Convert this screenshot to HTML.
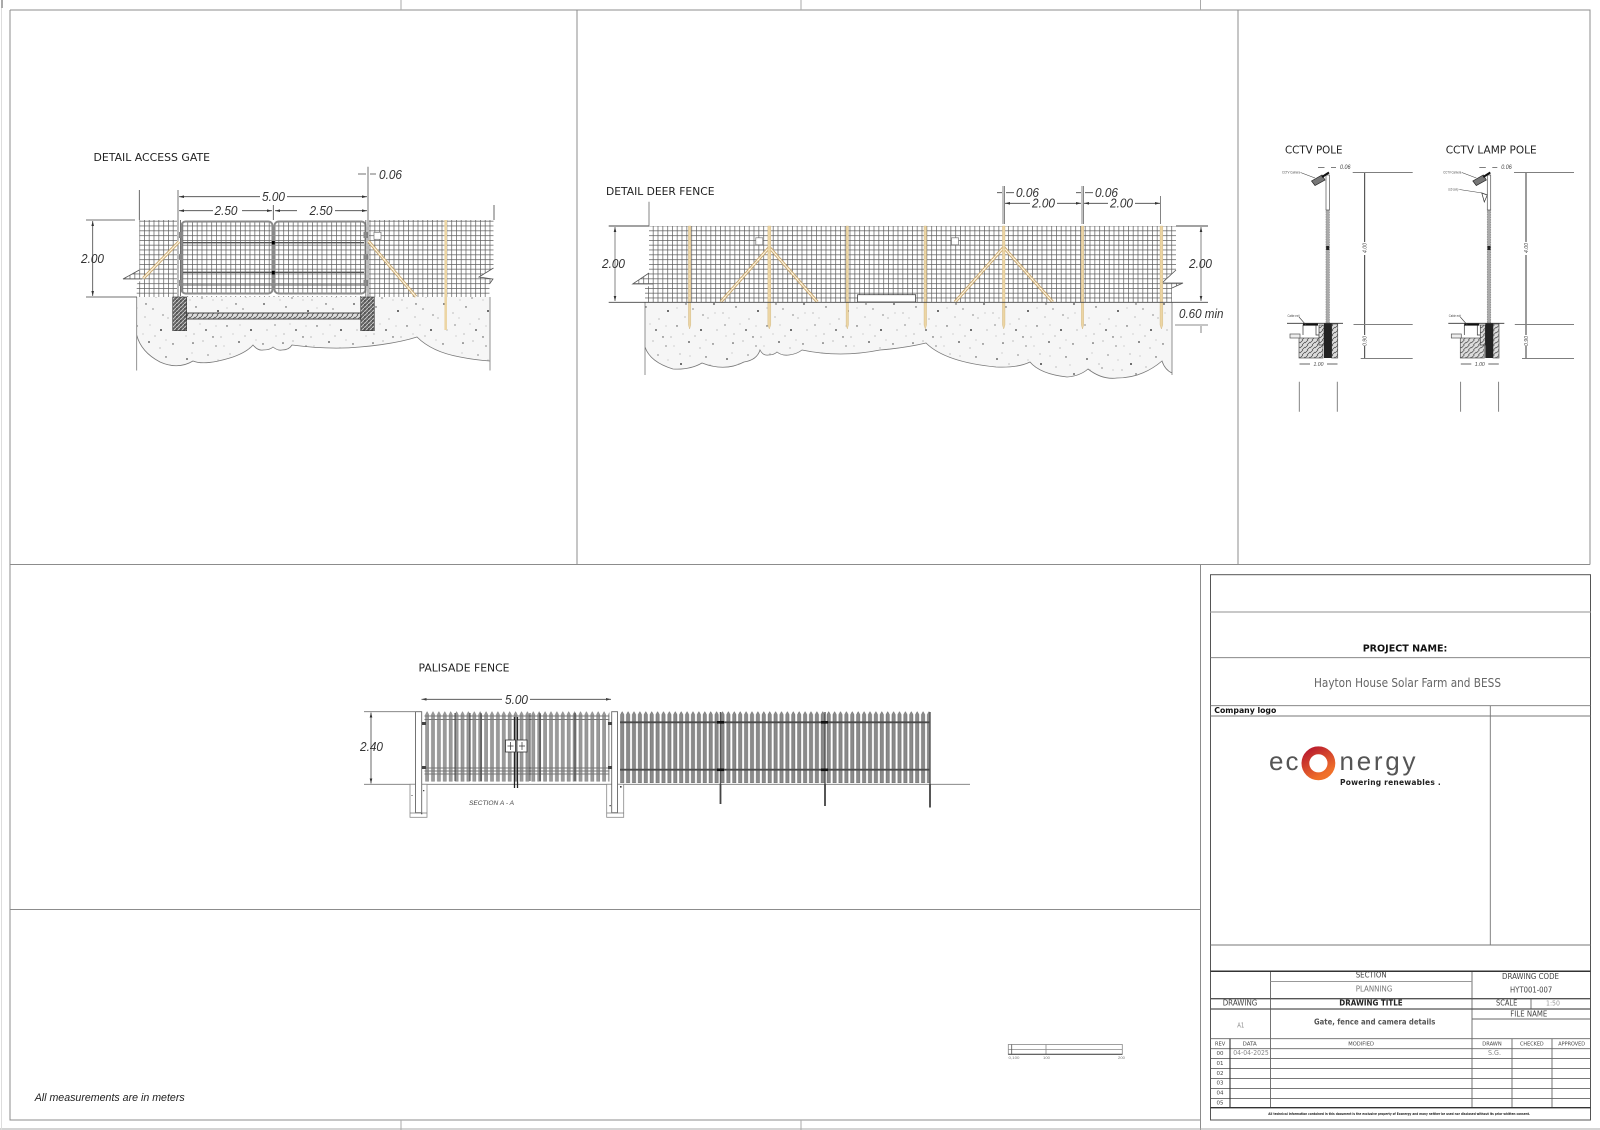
<!DOCTYPE html>
<html><head><meta charset="utf-8"><style>
html,body{margin:0;padding:0;background:#fff}
svg{display:block}
text{font-family:"Liberation Sans",sans-serif}
.d{font-style:italic;fill:#333;font-size:12.5px}
.t{font-family:"DejaVu Sans","Liberation Sans",sans-serif;fill:#222;font-size:10.5px}
.v{font-family:"DejaVu Sans","Liberation Sans",sans-serif;fill:#444}
</style></head><body>
<svg width="1600" height="1130" viewBox="0 0 1600 1130" xmlns="http://www.w3.org/2000/svg">
<defs>
<pattern id="mesh" width="4.8" height="4.8" patternUnits="userSpaceOnUse"><rect width="4.8" height="4.8" fill="#fff"/><path d="M0 .4H4.8M.4 0V4.8" stroke="#5c5c5c" stroke-width=".7" fill="none"/></pattern>
<pattern id="soil" width="90" height="70" patternUnits="userSpaceOnUse"><rect width="90" height="70" fill="#f6f6f6"/>
<g fill="#444"><circle cx="7" cy="9" r=".9"/><circle cx="28" cy="5" r=".6"/><circle cx="51" cy="14" r="1"/><circle cx="76" cy="7" r=".7"/><circle cx="16" cy="27" r=".7"/><circle cx="38" cy="31" r="1"/><circle cx="63" cy="29" r=".6"/><circle cx="84" cy="24" r=".9"/><circle cx="5" cy="45" r=".6"/><circle cx="26" cy="50" r=".9"/><circle cx="47" cy="46" r=".7"/><circle cx="71" cy="50" r="1"/><circle cx="13" cy="63" r=".8"/><circle cx="36" cy="66" r=".6"/><circle cx="59" cy="62" r=".9"/><circle cx="83" cy="64" r=".7"/><circle cx="22" cy="18" r=".6"/><circle cx="56" cy="24" r=".7"/><circle cx="73" cy="35" r=".6"/><circle cx="33" cy="57" r=".7"/></g>
<g fill="#999"><circle cx="19" cy="14" r=".6"/><circle cx="42" cy="20" r=".6"/><circle cx="66" cy="17" r=".6"/><circle cx="3" cy="33" r=".6"/><circle cx="29" cy="39" r=".6"/><circle cx="55" cy="37" r=".6"/><circle cx="78" cy="38" r=".6"/><circle cx="14" cy="54" r=".6"/><circle cx="41" cy="57" r=".6"/><circle cx="65" cy="56" r=".6"/><circle cx="87" cy="50" r=".6"/><circle cx="23" cy="61" r=".6"/><circle cx="50" cy="4" r=".6"/><circle cx="70" cy="68" r=".6"/><circle cx="33" cy="20" r=".5"/><circle cx="10" cy="20" r=".5"/><circle cx="60" cy="45" r=".5"/><circle cx="80" cy="15" r=".5"/><circle cx="12" cy="3" r=".5"/><circle cx="38" cy="10" r=".5"/><circle cx="60" cy="6" r=".5"/><circle cx="85" cy="33" r=".5"/><circle cx="47" cy="28" r=".5"/><circle cx="9" cy="38" r=".5"/><circle cx="20" cy="44" r=".5"/><circle cx="36" cy="46" r=".5"/><circle cx="53" cy="54" r=".5"/><circle cx="76" cy="60" r=".5"/><circle cx="6" cy="56" r=".5"/><circle cx="44" cy="66" r=".5"/></g>
</pattern>
<pattern id="hatch" width="4" height="4" patternUnits="userSpaceOnUse"><rect width="4" height="4" fill="#666"/><path d="M0 4L4 0" stroke="#ccc" stroke-width=".9"/><circle cx="1" cy="1" r=".5" fill="#111"/></pattern>
<pattern id="conc" width="5" height="5" patternUnits="userSpaceOnUse"><rect width="5" height="5" fill="#ddd"/><path d="M0 3L3 0M2 5L5 2" stroke="#444" stroke-width=".7"/></pattern>
<pattern id="pg" x="424.5" y="711.5" width="5.9" height="70" patternUnits="userSpaceOnUse"><polygon points="1,70 1,3 2.6,0 4.2,3 4.2,70" fill="#9a9a9a" stroke="#555" stroke-width=".3"/></pattern>
<pattern id="pf" x="619.5" y="711.5" width="5.9" height="71.5" patternUnits="userSpaceOnUse"><polygon points="1,71.5 1,3 2.7,0 4.4,3 4.4,71.5" fill="#8a8a8a" stroke="#4a4a4a" stroke-width=".35"/></pattern>
<linearGradient id="ring" x1="0" y1="0" x2=".6" y2="1"><stop offset="0" stop-color="#b81a2e"/><stop offset="1" stop-color="#f0702a"/></linearGradient>
</defs>
<rect width="1600" height="1130" fill="#fff"/>

<!-- sheet frame -->
<g fill="none" stroke="#8c8c8c" stroke-width="1">
<path d="M10 10H1590V564.5M10 10V1120H1200M10 564.5H1590M577 10V564.5M1238 10V564.5M1200.5 564.5V1130M10 909.5H1200.5"/>
<path d="M401 0V10M801 0V10M1200.5 0V10M401 1120V1130M801 1120V1130" stroke="#aaa"/>
<path d="M0 1129H1600" stroke="#aaa"/>
<path d="M1.5 0V1130" stroke="#ddd"/>
<path d="M2 0V8" stroke="#aaa" stroke-width="2"/>
</g>

<!-- DETAIL ACCESS GATE -->
<text class="t" x="93.5" y="161" textLength="116.5" lengthAdjust="spacingAndGlyphs">DETAIL ACCESS GATE</text>
<path d="M136.7 297V335Q141 352 160 362Q178 370 193 361Q205 366 233 357Q247 352 253 345Q258 351 263 350Q270 350 273 347Q278 351 282 350Q289 350 292 345Q330 350 360 347Q395 344 417 337Q432 352 460 357Q475 360 490 361V297Z" fill="url(#soil)"/>
<path d="M136.7 297V370.5M490 297V370.5M136.7 335Q141 352 160 362Q178 370 193 361Q205 366 233 357Q247 352 253 345Q258 351 263 350Q270 350 273 347Q278 351 282 350Q289 350 292 345Q330 350 360 347Q395 344 417 337Q432 352 460 357Q475 360 490 361" fill="none" stroke="#777" stroke-width=".8"/>
<path d="M139.3 220H493.5V268L479 277L493 279L489.5 284V297H136.7V284L142 279H123L139.3 270Z" fill="url(#mesh)"/>
<path d="M493.5 268L479 277L493 279L489.5 284M142 279H123L139.3 270" fill="none" stroke="#555" stroke-width=".8"/>
<rect x="177" y="219" width="192" height="77" fill="#fff"/>
<rect x="181.5" y="221.5" width="91" height="72" rx="4" fill="url(#mesh)" stroke="#8a8a8a" stroke-width="2"/>
<rect x="274.5" y="221.5" width="91" height="72" rx="4" fill="url(#mesh)" stroke="#8a8a8a" stroke-width="2"/>
<path d="M183 242.7H272M275 242.7H364M183 272.3H272M275 272.3H364" stroke="#555" stroke-width="1.3"/>
<path d="M183 285H272M275 285H364" stroke="#666" stroke-width="1"/>
<rect x="271.8" y="241" width="3" height="3.5" fill="#000"/><rect x="271.8" y="271" width="3" height="3.5" fill="#000"/>
<path d="M178 190V297M180.5 220V296M368 166.7V297M365.8 220V296" stroke="#666" stroke-width=".9"/>
<g fill="#888"><rect x="179" y="232" width="4" height="6"/><rect x="179" y="254" width="4" height="6"/><rect x="179" y="280" width="4" height="6"/><rect x="363.5" y="232" width="4" height="6"/><rect x="363.5" y="254" width="4" height="6"/><rect x="363.5" y="280" width="4" height="6"/></g>
<rect x="374" y="232.3" width="7" height="7" fill="#fff" stroke="#777" stroke-width=".7"/>
<path d="M179 241.7L143.3 278.3M368.3 241L416 296.7" stroke="#c9a66b" stroke-width="3"/>
<path d="M179 241.7L143.3 278.3M368.3 241L416 296.7" stroke="#fbf4e2" stroke-width="1.2"/>
<path d="M445.7 220V330" stroke="#ecd5a4" stroke-width="2.6"/>
<rect x="172.7" y="297" width="14" height="33.7" fill="url(#hatch)" stroke="#333" stroke-width=".6"/>
<rect x="360.7" y="297" width="13.6" height="33.7" fill="url(#hatch)" stroke="#333" stroke-width=".6"/>
<rect x="186.7" y="313" width="174" height="6" fill="url(#conc)" stroke="#333" stroke-width=".9"/>
<path d="M139.3 190V220M494 205V220M86 220H135M86 297H137M273.3 205V220M92.7 221V296" stroke="#444" stroke-width=".8" fill="none"/>
<path d="M179 196.7H260M287 196.7H367M179 210.7H213M242 210.7H272M275 210.7H297M335 210.7H367M358 174H366M370 174H376" stroke="#444" stroke-width=".8"/>
<path d="M179 196.7l5-1.3v2.6zM367 196.7l-5-1.3v2.6zM179 210.7l5-1.3v2.6zM272 210.7l-5-1.3v2.6zM275 210.7l5-1.3v2.6zM367 210.7l-5-1.3v2.6zM92.7 221l-1.3 5h2.6zM92.7 296l-1.3-5h2.6z" fill="#333"/>
<text class="d" x="262" y="201" textLength="23" lengthAdjust="spacingAndGlyphs">5.00</text>
<text class="d" x="214.5" y="215" textLength="23" lengthAdjust="spacingAndGlyphs">2.50</text>
<text class="d" x="309.5" y="215" textLength="23" lengthAdjust="spacingAndGlyphs">2.50</text>
<text class="d" x="379" y="179" textLength="23" lengthAdjust="spacingAndGlyphs">0.06</text>
<text class="d" x="81" y="263" textLength="23" lengthAdjust="spacingAndGlyphs">2.00</text>

<!-- DETAIL DEER FENCE -->
<text class="t" x="606" y="195" textLength="108.5" lengthAdjust="spacingAndGlyphs">DETAIL DEER FENCE</text>
<path d="M645 302V347Q650 362 673 369Q690 370 702 363Q725 372 744 362Q757 360 760 350Q763 356 768.5 355Q774 355 777 352Q782 356 789 355Q797 354 802 350Q840 358 880 350Q905 348 926 343Q945 362 996 367Q1018 368 1030 362Q1040 374 1067 377Q1080 376 1088 369Q1102 380 1117 378Q1142 378 1162 361Q1165 370 1172 373V302Z" fill="url(#soil)"/>
<path d="M645 302V375M1172 302V375M645 347Q650 362 673 369Q690 370 702 363Q725 372 744 362Q757 360 760 350Q763 356 768.5 355Q774 355 777 352Q782 356 789 355Q797 354 802 350Q840 358 880 350Q905 348 926 343Q945 362 996 367Q1018 368 1030 362Q1040 374 1067 377Q1080 376 1088 369Q1102 380 1117 378Q1142 378 1162 361Q1165 370 1172 373" fill="none" stroke="#777" stroke-width=".8"/>
<path d="M649 226H1176V270L1162 283H1183L1172 288V302H645V288L653 284H632.7L649 273Z" fill="url(#mesh)"/>
<path d="M1176 270L1162 283H1183L1172 288M653 284H632.7L649 273" fill="none" stroke="#555" stroke-width=".8"/>
<rect x="857.6" y="294.7" width="58" height="7.3" fill="#fff" stroke="#444" stroke-width=".8"/>
<rect x="755.8" y="237.8" width="7" height="7" fill="#fff" stroke="#777" stroke-width=".7"/>
<rect x="951.5" y="237.8" width="7" height="7" fill="#fff" stroke="#777" stroke-width=".7"/>
<path d="M769.3 247.3L720.7 302M769.3 247.3L817.4 302M1003.7 247.3L955 302M1003.7 247.3L1052.7 302" stroke="#c9a66b" stroke-width="3"/>
<path d="M769.3 247.3L720.7 302M769.3 247.3L817.4 302M1003.7 247.3L955 302M1003.7 247.3L1052.7 302" stroke="#fbf4e2" stroke-width="1.2"/>
<g fill="#ecd5a4" stroke="#c4a66a" stroke-width=".3">
<polygon points="688.4,226 690.8,226 690.8,325 689.6,329 688.4,325"/>
<polygon points="767.8,226 770.8,226 770.8,325 769.3,329 767.8,325"/>
<polygon points="846.1,226 848.5,226 848.5,325 847.3,329 846.1,325"/>
<polygon points="924,226 926.6,226 926.6,325 925.3,329 924,325"/>
<polygon points="1002.4,226 1005,226 1005,325 1003.7,329 1002.4,325"/>
<polygon points="1081.3,226 1083.7,226 1083.7,325 1082.5,329 1081.3,325"/>
<polygon points="1160,226 1162.8,226 1162.8,325 1161.4,329 1160,325"/>
</g>
<path d="M608.7 226H649M1176 226H1208M608.7 302.3H1208" stroke="#444" stroke-width=".9"/>
<path d="M615 227V301M1201 227V301M1175 325H1208M1201 326V333M649 201.7V226M1003 186V224M1004.6 186V224M1082 186V224M1083.4 186V224M1160.5 196V224" stroke="#666" stroke-width=".8"/>
<path d="M1005 203.3H1030M1057 203.3H1081M1084 203.3H1108M1135 203.3H1160M997 192.7H1002M1006 192.7H1014M1076 192.7H1081M1085 192.7H1093" stroke="#444" stroke-width=".8"/>
<path d="M1005 203.3l5-1.3v2.6zM1081 203.3l-5-1.3v2.6zM1084 203.3l5-1.3v2.6zM1160 203.3l-5-1.3v2.6zM615 227l-1.3 5h2.6zM615 301l-1.3-5h2.6zM1201 227l-1.3 5h2.6zM1201 301l-1.3-5h2.6z" fill="#333"/>
<text class="d" x="1032" y="207.5" textLength="23" lengthAdjust="spacingAndGlyphs">2.00</text>
<text class="d" x="1110" y="207.5" textLength="23" lengthAdjust="spacingAndGlyphs">2.00</text>
<text class="d" x="1016" y="197" textLength="23" lengthAdjust="spacingAndGlyphs">0.06</text>
<text class="d" x="1095" y="197" textLength="23" lengthAdjust="spacingAndGlyphs">0.06</text>
<text class="d" x="602" y="268" textLength="23" lengthAdjust="spacingAndGlyphs">2.00</text>
<text class="d" x="1189" y="268" textLength="23" lengthAdjust="spacingAndGlyphs">2.00</text>
<text class="d" x="1179" y="318" textLength="44.5" lengthAdjust="spacingAndGlyphs">0.60 min</text>

<!-- CCTV POLE -->
<text class="t" x="1285" y="153.5" textLength="57.5" lengthAdjust="spacingAndGlyphs">CCTV POLE</text>
<g stroke="#444" stroke-width=".7" fill="none">
<rect x="1299" y="338" width="24" height="20" fill="url(#conc)" stroke="#555"/>
<rect x="1331.7" y="324" width="6" height="34" fill="url(#conc)" stroke="#555"/>
<rect x="1319" y="325" width="5" height="20" fill="url(#conc)"/>
<rect x="1324" y="323" width="7.7" height="35" fill="#222" stroke="none"/>
<path d="M1303 335V325H1316V335H1319" stroke="#333"/>
<rect x="1303" y="323" width="15" height="2.6" fill="#111" stroke="none"/>
<rect x="1290" y="334" width="10" height="4" fill="#eee" stroke="#555"/>
<rect x="1326" y="210" width="3.4" height="113" fill="#aaa" stroke="#888" stroke-dasharray="1.5 1"/>
<rect x="1326" y="175" width="3.4" height="35" fill="#fff" stroke="#555"/>
<rect x="1326.2" y="246" width="3" height="4" fill="#222" stroke="none"/>
<polygon points="1311.5,181 1322,175 1325,180 1315,185.5" fill="#777" stroke="#222"/>
<path d="M1322 177L1329 172.5" stroke="#111" stroke-width="2"/>
<path d="M1300.5 172.5L1315 178M1299 317L1306 325" stroke="#444" stroke-width=".6"/>
<path d="M1287 323.3H1343" stroke="#333" stroke-width=".9"/>
<path d="M1352.7 172.7H1412.7M1353.5 324.3H1412.7M1360.7 358.7H1412.7" stroke="#333"/>
<path d="M1364.7 173V242M1364.7 255V324M1364.7 325V335M1364.7 346V358" stroke="#222" stroke-width=".9"/>
<path d="M1299.5 364H1310M1327 364H1337.5M1318 167.7H1324.5M1331 167.7H1336" stroke="#333"/>
<path d="M1299.3 381.7V411.7M1337.3 381.7V411.7" stroke="#777" stroke-width=".9"/>
</g>
<g fill="#444">
<text x="1282" y="173.5" font-size="3.6" textLength="18" lengthAdjust="spacingAndGlyphs">CCTV Camera</text>
<text x="1287.5" y="317" font-size="3.6" textLength="12" lengthAdjust="spacingAndGlyphs">Cable exit</text>
<text x="1313.5" y="366" font-size="5.5" font-style="italic" textLength="10" lengthAdjust="spacingAndGlyphs">1.00</text>
<text x="1340" y="169" font-size="6" font-style="italic" textLength="10.5" lengthAdjust="spacingAndGlyphs">0.06</text>
<text transform="translate(1366.5 253) rotate(-90)" font-size="5.5" font-style="italic" textLength="10" lengthAdjust="spacingAndGlyphs">4.00</text>
<text transform="translate(1366.5 346) rotate(-90)" font-size="5.5" font-style="italic" textLength="10" lengthAdjust="spacingAndGlyphs">0.90</text>
</g>

<!-- CCTV LAMP POLE -->
<text class="t" x="1445.7" y="153.5" textLength="91" lengthAdjust="spacingAndGlyphs">CCTV LAMP POLE</text>
<g transform="translate(161.3 0)">
<g stroke="#444" stroke-width=".7" fill="none">
<rect x="1299" y="338" width="24" height="20" fill="url(#conc)" stroke="#555"/>
<rect x="1331.7" y="324" width="6" height="34" fill="url(#conc)" stroke="#555"/>
<rect x="1319" y="325" width="5" height="20" fill="url(#conc)"/>
<rect x="1324" y="323" width="7.7" height="35" fill="#222" stroke="none"/>
<path d="M1303 335V325H1316V335H1319" stroke="#333"/>
<rect x="1303" y="323" width="15" height="2.6" fill="#111" stroke="none"/>
<rect x="1290" y="334" width="10" height="4" fill="#eee" stroke="#555"/>
<rect x="1326" y="210" width="3.4" height="113" fill="#aaa" stroke="#888" stroke-dasharray="1.5 1"/>
<rect x="1326" y="175" width="3.4" height="35" fill="#fff" stroke="#555"/>
<rect x="1326.2" y="246" width="3" height="4" fill="#222" stroke="none"/>
<polygon points="1311.5,181 1322,175 1325,180 1315,185.5" fill="#777" stroke="#222"/>
<path d="M1322 177L1329 172.5" stroke="#111" stroke-width="2"/>
<polygon points="1320.5,193 1326,195 1323,202" fill="#fff" stroke="#333"/>
<path d="M1300.5 172.5L1315 178M1298 189.5L1321 193M1299 317L1306 325" stroke="#444" stroke-width=".6"/>
<path d="M1287 323.3H1343" stroke="#333" stroke-width=".9"/>
<path d="M1352.7 172.7H1412.7M1353.5 324.3H1412.7M1360.7 358.7H1412.7" stroke="#333"/>
<path d="M1364.7 173V242M1364.7 255V324M1364.7 325V335M1364.7 346V358" stroke="#222" stroke-width=".9"/>
<path d="M1299.5 364H1310M1327 364H1337.5M1318 167.7H1324.5M1331 167.7H1336" stroke="#333"/>
<path d="M1299.3 381.7V411.7M1337.3 381.7V411.7" stroke="#777" stroke-width=".9"/>
</g>
<g fill="#444">
<text x="1282" y="173.5" font-size="3.6" textLength="18" lengthAdjust="spacingAndGlyphs">CCTV Camera</text>
<text x="1287" y="190.5" font-size="3.6" textLength="10" lengthAdjust="spacingAndGlyphs">LED Lamp</text>
<text x="1287.5" y="317" font-size="3.6" textLength="12" lengthAdjust="spacingAndGlyphs">Cable exit</text>
<text x="1313.5" y="366" font-size="5.5" font-style="italic" textLength="10" lengthAdjust="spacingAndGlyphs">1.00</text>
<text x="1340" y="169" font-size="6" font-style="italic" textLength="10.5" lengthAdjust="spacingAndGlyphs">0.06</text>
<text transform="translate(1366.5 253) rotate(-90)" font-size="5.5" font-style="italic" textLength="10" lengthAdjust="spacingAndGlyphs">4.00</text>
<text transform="translate(1366.5 346) rotate(-90)" font-size="5.5" font-style="italic" textLength="10" lengthAdjust="spacingAndGlyphs">0.90</text>
</g>
</g>

<!-- PALISADE FENCE -->
<text class="t" x="418.5" y="671.5" textLength="91" lengthAdjust="spacingAndGlyphs">PALISADE FENCE</text>
<path d="M364 711.7H415M364 784.3H970" stroke="#777" stroke-width=".9"/>
<path d="M371 712.5V783.5" stroke="#444" stroke-width=".8"/>
<path d="M371 712.5l-1.3 5h2.6zM371 783.5l-1.3-5h2.6zM421.5 699.3l5-1.3v2.6zM611 699.3l-5-1.3v2.6z" fill="#333"/>
<path d="M421.5 699.3H502M530 699.3H611" stroke="#444" stroke-width=".8"/>
<text class="d" x="505" y="704" textLength="23" lengthAdjust="spacingAndGlyphs">5.00</text>
<text class="d" x="360" y="751" textLength="23" lengthAdjust="spacingAndGlyphs">2.40</text>
<rect x="424.5" y="711.5" width="185" height="70" fill="url(#pg)"/>
<path d="M424.5 716H609.5M424.5 719.5H609.5M424.5 768H609.5M424.5 771H609.5M424.5 774H609.5" stroke="#777" stroke-width=".9"/>
<path d="M455 713V781M470 713V781M481 713V781M530 713V781M540 713V781M575 713V781" stroke="#333" stroke-width=".9"/>
<rect x="619.5" y="711.5" width="311" height="71.5" fill="url(#pf)"/>
<path d="M620 722.3H930M620 769.7H930" stroke="#4a4a4a" stroke-width="1.8"/>
<path d="M720.5 784V804M825 784V806M930 784V807.5" stroke="#444" stroke-width="1.8"/>
<path d="M720.5 712V784M825 712V784M930 712V784" stroke="#555" stroke-width="1.4"/>
<rect x="717" y="721" width="7" height="2.6" fill="#111"/><rect x="717" y="768.5" width="7" height="2.6" fill="#111"/>
<rect x="821" y="721" width="7" height="2.6" fill="#111"/><rect x="821" y="768.5" width="7" height="2.6" fill="#111"/>
<path d="M514.5 717V788M517.5 717V788" stroke="#222" stroke-width="1.3"/>
<rect x="505.5" y="740" width="10" height="12" fill="#fff" stroke="#333" stroke-width=".8"/>
<rect x="517" y="740" width="10" height="12" fill="#fff" stroke="#333" stroke-width=".8"/>
<path d="M507.5 746H513.5M510.5 742V750M519 746H525M522 742V750" stroke="#333" stroke-width=".7"/>
<rect x="410" y="784.3" width="17" height="33" fill="#fff" stroke="#888" stroke-width=".8"/>
<rect x="606.7" y="784.3" width="17" height="33" fill="#fff" stroke="#888" stroke-width=".8"/>
<rect x="415.5" y="711.7" width="6.2" height="101" fill="#fff" stroke="#666" stroke-width=".9"/>
<rect x="611.7" y="711.7" width="5.8" height="101" fill="#fff" stroke="#666" stroke-width=".9"/>
<path d="M422 722h4v3h-4zM422 766h4v3h-4zM608 722h4v3h-4zM608 766h4v3h-4zM411.5 795h1v1h-1zM423 790h1.3v1.3h-1.3zM620 786h1.6v1.6H620zM609.5 805h1.3v1.3h-1.3zM421 813h1.3v1.3H421z" fill="#444"/>
<path d="M410 813H427M606.7 813H623.7" stroke="#777" stroke-width=".7"/>
<text x="469" y="805" font-size="6.5" font-style="italic" fill="#444" textLength="45" lengthAdjust="spacingAndGlyphs">SECTION A - A</text>

<!-- scale bar -->
<g fill="none" stroke="#888" stroke-width=".8">
<rect x="1008.3" y="1044.5" width="114" height="9.8"/>
<path d="M1008.3 1049.5H1122.3"/>
<path d="M1011.7 1044.5V1054.3" stroke="#555"/>
<path d="M1046 1044.5V1054.3"/>
<path d="M1008.3 1054.3H1122.3" stroke="#555" stroke-width="1.1"/>
</g>
<g fill="#777" font-size="3.8">
<text x="1008.5" y="1059" textLength="11" lengthAdjust="spacingAndGlyphs">0,100</text>
<text x="1043" y="1059" textLength="7" lengthAdjust="spacingAndGlyphs">100</text>
<text x="1118" y="1059" textLength="7" lengthAdjust="spacingAndGlyphs">200</text>
</g>
<text x="34.7" y="1101" font-size="11" font-style="italic" fill="#222" textLength="150" lengthAdjust="spacingAndGlyphs">All measurements are in meters</text>

<!-- title block -->
<rect x="1210.5" y="574.7" width="380" height="545.3" fill="#fff" stroke="#555" stroke-width="1"/>
<g fill="none" stroke="#777" stroke-width=".9">
<path d="M1210.5 612H1590.5" stroke="#b5b5b5" stroke-width="1.4"/>
<path d="M1210.5 657.7H1590.5M1210.5 705.7H1590.5M1210.5 716H1590.5M1490.3 705.7V945M1210.5 945H1590.5"/>
<path d="M1270.5 971V1107.7M1472 971V1107.7M1472 1019H1590.5M1531 998.7V1009M1210.5 1038.7H1590.5M1210.5 1048.7H1590.5M1210.5 1058.6H1590.5M1210.5 1068.6H1590.5M1210.5 1078.6H1590.5M1210.5 1088.6H1590.5M1210.5 1098.6H1590.5M1512 1038.7V1107.7M1552 1038.7V1107.7" stroke="#666"/>
<path d="M1270.5 981.5H1472" stroke="#999"/>
<path d="M1230 1038.7V1107.7" stroke="#333" stroke-width="1.1"/>
<path d="M1210.5 971.3H1590.5" stroke="#333" stroke-width="1.5"/>
<path d="M1210.5 998.7H1590.5M1210.5 1009H1590.5" stroke="#555" stroke-width="1.3"/>
<path d="M1210.5 1107.7H1590.5" stroke="#333" stroke-width="1.3"/>
</g>
<text class="v" x="1362.7" y="651.7" font-size="10" font-weight="bold" style="fill:#111" textLength="84.6" lengthAdjust="spacingAndGlyphs">PROJECT NAME:</text>
<text class="v" x="1314" y="687" font-size="12.5" style="fill:#666" textLength="187" lengthAdjust="spacingAndGlyphs">Hayton House Solar Farm and BESS</text>
<text class="v" x="1214.3" y="713" font-size="8.2" font-weight="bold" style="fill:#111" textLength="62" lengthAdjust="spacingAndGlyphs">Company logo</text>

<text x="1269" y="770" font-size="26" fill="#555" textLength="29.5" lengthAdjust="spacing">ec</text>
<circle cx="1318.4" cy="763.3" r="13" fill="#fff" stroke="url(#ring)" stroke-width="7.8"/>
<text x="1339.5" y="770" font-size="26" fill="#555" textLength="76" lengthAdjust="spacing">nergy</text>
<text class="v" x="1340" y="785" font-size="7.5" font-weight="bold" style="fill:#222" textLength="100.7" lengthAdjust="spacing">Powering renewables .</text>

<text class="v" x="1355.7" y="977.7" font-size="7.5" textLength="31" lengthAdjust="spacingAndGlyphs">SECTION</text>
<text class="v" x="1355.7" y="991.3" font-size="7.5" style="fill:#777" textLength="36.6" lengthAdjust="spacingAndGlyphs">PLANNING</text>
<text class="v" x="1502" y="979" font-size="7.5" textLength="57" lengthAdjust="spacingAndGlyphs">DRAWING CODE</text>
<text class="v" x="1510" y="992.3" font-size="7.5" textLength="42.3" lengthAdjust="spacingAndGlyphs">HYT001-007</text>
<text class="v" x="1222.7" y="1005.7" font-size="7.5" textLength="34.6" lengthAdjust="spacingAndGlyphs">DRAWING</text>
<text class="v" x="1339.3" y="1005.7" font-size="7.5" font-weight="bold" style="fill:#222" textLength="63.4" lengthAdjust="spacingAndGlyphs">DRAWING TITLE</text>
<text class="v" x="1496" y="1005.7" font-size="7.5" textLength="21.3" lengthAdjust="spacingAndGlyphs">SCALE</text>
<text class="v" x="1546" y="1005.7" font-size="7" style="fill:#999" textLength="14" lengthAdjust="spacingAndGlyphs">1:50</text>
<text class="v" x="1510.3" y="1016.7" font-size="7.5" textLength="37" lengthAdjust="spacingAndGlyphs">FILE NAME</text>
<text class="v" x="1314" y="1024.7" font-size="8" font-weight="bold" style="fill:#555" textLength="121.3" lengthAdjust="spacingAndGlyphs">Gate, fence and camera details</text>
<text class="v" x="1237.3" y="1027.7" font-size="7" style="fill:#888" textLength="7" lengthAdjust="spacingAndGlyphs">A1</text>
<g>
<text class="v" x="1215" y="1045.3" font-size="5.3" textLength="10.3" lengthAdjust="spacingAndGlyphs">REV</text>
<text class="v" x="1242.7" y="1045.3" font-size="5.3" textLength="14" lengthAdjust="spacingAndGlyphs">DATA</text>
<text class="v" x="1348.3" y="1045.3" font-size="5.3" textLength="25.7" lengthAdjust="spacingAndGlyphs">MODIFIED</text>
<text class="v" x="1482.3" y="1045.3" font-size="5.3" textLength="19.4" lengthAdjust="spacingAndGlyphs">DRAWN</text>
<text class="v" x="1520" y="1045.3" font-size="5.3" textLength="23.7" lengthAdjust="spacingAndGlyphs">CHECKED</text>
<text class="v" x="1558.3" y="1045.3" font-size="5.3" textLength="26.7" lengthAdjust="spacingAndGlyphs">APPROVED</text>
<text class="v" x="1216.5" y="1055" font-size="5.5" textLength="7" lengthAdjust="spacingAndGlyphs">00</text>
<text class="v" x="1216.5" y="1065" font-size="5.5" textLength="7" lengthAdjust="spacingAndGlyphs">01</text>
<text class="v" x="1216.5" y="1075" font-size="5.5" textLength="7" lengthAdjust="spacingAndGlyphs">02</text>
<text class="v" x="1216.5" y="1084.7" font-size="5.5" textLength="7" lengthAdjust="spacingAndGlyphs">03</text>
<text class="v" x="1216.5" y="1094.7" font-size="5.5" textLength="7" lengthAdjust="spacingAndGlyphs">04</text>
<text class="v" x="1216.5" y="1104.7" font-size="5.5" textLength="7" lengthAdjust="spacingAndGlyphs">05</text>
</g>
<text class="v" x="1233.3" y="1055" font-size="7" style="fill:#888" textLength="35.4" lengthAdjust="spacingAndGlyphs">04-04-2025</text>
<text class="v" x="1488" y="1055" font-size="7" style="fill:#888" textLength="13" lengthAdjust="spacingAndGlyphs">S.G.</text>
<text class="v" x="1268.3" y="1115" font-size="3.5" font-weight="bold" style="fill:#222" textLength="261.7" lengthAdjust="spacingAndGlyphs">All technical information contained in this document is the exclusive property of Econergy and many neither be used nor disclosed without its prior whitten consent.</text>
</svg>
</body></html>
